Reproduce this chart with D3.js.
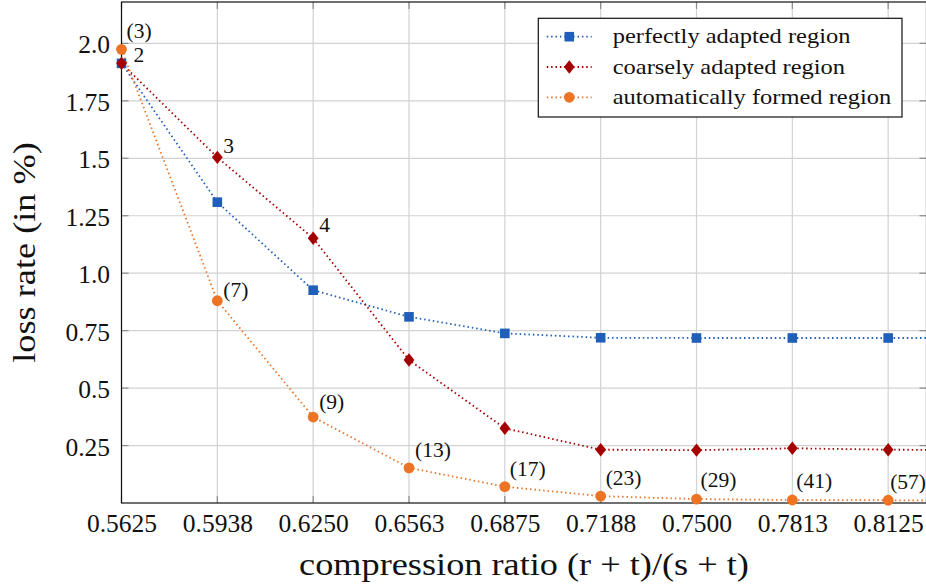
<!DOCTYPE html>
<html>
<head>
<meta charset="utf-8">
<script src="https://cdn.jsdelivr.net/npm/d3@7"></script>
<style>
  html, body { margin: 0; padding: 0; background: #fff; }
  svg { display: block; }
  svg text { font-family: "Liberation Serif", "Times New Roman", serif !important; fill: #111; }
</style>
</head>
<body>
<svg id="chart" width="926" height="587" font-family="Liberation Serif"></svg>
<script>
// Compression ratio (r + t)/(s + t) at each measured configuration
const ratios = [0.5625, 0.59375, 0.625, 0.65625, 0.6875, 0.71875, 0.75, 0.78125, 0.8125, 0.84375];

// Loss rate (in %) per region type
const perfectlyAdapted = [1.913, 1.309, 0.926, 0.810, 0.738, 0.719, 0.718, 0.718, 0.718, 0.718];
const coarselyAdapted  = [1.913, 1.504, 1.152, 0.622, 0.325, 0.232, 0.230, 0.238, 0.232, 0.230];
const automaticFormed  = [1.974, 0.880, 0.374, 0.153, 0.071, 0.030, 0.017, 0.013, 0.012, 0.009];

// Point annotations
const coarseNotes = ["2", "3", "4"];
const autoNotes = ["(3)", "(7)", "(9)", "(13)", "(17)", "(23)", "(29)", "(41)", "(57)"];

// Axis ticks
const xTickValues = [0.5625, 0.59375, 0.625, 0.65625, 0.6875, 0.71875, 0.75, 0.78125, 0.8125];
const xTickLabels = ["0.5625", "0.5938", "0.6250", "0.6563", "0.6875", "0.7188", "0.7500", "0.7813", "0.8125"];
const yTickValues = [0.25, 0.5, 0.75, 1.0, 1.25, 1.5, 1.75, 2.0];
const yTickLabels = ["0.25", "0.5", "0.75", "1.0", "1.25", "1.5", "1.75", "2.0"];

const seriesNames = ["perfectly adapted region", "coarsely adapted region", "automatically formed region"];

// ---- layout ----
const plot = { left: 121.5, right: 926.5, top: 2, bottom: 503 };
const colors = ["#1f5fb8", "#a50000", "#ec7424"];
const shapes = ["square", "diamond", "circle"];
const serif = "Liberation Serif";
// annotation nudges relative to the point (dx, baseline dy)
const coarseNudge = [[12, -1], [6, -4], [6, -6]];
const autoNudge = [[5, -11], [6, -4], [6, -8], [6, -11], [5, -11], [5, -11], [4, -12], [4, -12], [2, -11]];

const svg = d3.select("#chart");

const x = d3.scaleLinear().domain([0.5625, 0.825]).range([plot.left, plot.right]);
const y = d3.scaleLinear().domain([0, 2.18]).range([plot.bottom, plot.top]);

// stretch serif text horizontally to a wider book face proportion
function widen(sel, k) {
  sel.each(function () {
    const w = this.getComputedTextLength();
    d3.select(this).attr("textLength", w * k).attr("lengthAdjust", "spacingAndGlyphs");
  });
}

// ---- grid ----
const grid = svg.append("g").attr("stroke", "#d2d2d2").attr("stroke-width", 1.2);
grid.selectAll("line.gx").data(xTickValues).join("line")
  .attr("x1", d => x(d)).attr("x2", d => x(d))
  .attr("y1", plot.top).attr("y2", plot.bottom);
grid.selectAll("line.gy").data(yTickValues).join("line")
  .attr("x1", plot.left).attr("x2", plot.right)
  .attr("y1", d => y(d)).attr("y2", d => y(d));

// ---- inner tick marks ----
const tickLen = 7;
const ticks = svg.append("g").attr("stroke", "#8c8c8c").attr("stroke-width", 1.2);
xTickValues.forEach(v => {
  ticks.append("line").attr("x1", x(v)).attr("x2", x(v)).attr("y1", plot.bottom).attr("y2", plot.bottom - tickLen);
  ticks.append("line").attr("x1", x(v)).attr("x2", x(v)).attr("y1", plot.top).attr("y2", plot.top + tickLen);
});
yTickValues.forEach(v => {
  ticks.append("line").attr("x1", plot.left).attr("x2", plot.left + tickLen).attr("y1", y(v)).attr("y2", y(v));
  ticks.append("line").attr("x1", plot.right).attr("x2", plot.right - tickLen).attr("y1", y(v)).attr("y2", y(v));
});

// ---- frame ----
svg.append("rect")
  .attr("x", plot.left).attr("y", plot.top)
  .attr("width", plot.right - plot.left).attr("height", plot.bottom - plot.top)
  .attr("fill", "none").attr("stroke", "#111").attr("stroke-width", 1.2);

// ---- tick labels ----
const xAxisG = svg.append("g").attr("transform", `translate(0,${plot.bottom})`)
  .call(d3.axisBottom(x).tickValues(xTickValues).tickFormat((d, i) => xTickLabels[i]).tickSize(0).tickPadding(0));
xAxisG.attr("font-family", serif).attr("font-size", 25.5);
xAxisG.select(".domain").remove();
xAxisG.selectAll("text")
  .attr("y", 28.5).attr("dy", null).attr("fill", "#111");

const yAxisG = svg.append("g").attr("transform", `translate(${plot.left},0)`)
  .call(d3.axisLeft(y).tickValues(yTickValues).tickFormat((d, i) => yTickLabels[i]).tickSize(0).tickPadding(0));
yAxisG.attr("font-family", serif).attr("font-size", 25.5);
yAxisG.select(".domain").remove();
yAxisG.selectAll("text")
  .attr("x", -11.5).attr("dy", null).attr("y", 9.5).attr("fill", "#111");

// ---- axis titles ----
const xTitle = svg.append("text")
  .attr("x", (plot.left + plot.right) / 2).attr("y", 575)
  .attr("text-anchor", "middle").attr("font-family", serif).attr("font-size", 31)
  .text("compression ratio (r + t)/(s + t)");
widen(xTitle, 1.17);

const yTitle = svg.append("text")
  .attr("transform", `translate(35,${(plot.top + plot.bottom) / 2}) rotate(-90)`)
  .attr("text-anchor", "middle").attr("font-family", serif).attr("font-size", 31)
  .text("loss rate (in %)");
widen(yTitle, 1.17);

// ---- series ----
const clipId = "plot-clip";
svg.append("clipPath").attr("id", clipId).append("rect")
  .attr("x", plot.left).attr("y", plot.top)
  .attr("width", plot.right - plot.left).attr("height", plot.bottom - plot.top);

const series = [perfectlyAdapted, coarselyAdapted, automaticFormed];

const line = d3.line()
  .x((d, i) => x(ratios[i]))
  .y(d => y(d));

function markerPath(shape) {
  if (shape === "square") return "M-4.8,-4.8H4.8V4.8H-4.8Z";
  if (shape === "diamond") return "M0,-6.7L5.4,0L0,6.7L-5.4,0Z";
  return d3.symbol(d3.symbolCircle, Math.PI * 5.4 * 5.4)();
}

const lineLayer = svg.append("g").attr("clip-path", `url(#${clipId})`);
const markLayer = svg.append("g");

series.forEach((vals, s) => {
  lineLayer.append("path")
    .attr("d", line(vals))
    .attr("fill", "none")
    .attr("stroke", colors[s])
    .attr("stroke-width", 1.8)
    .attr("stroke-dasharray", "1.5 2.9")
    .attr("stroke-linecap", "butt");

  markLayer.append("g").selectAll("path")
    .data(vals.filter((d, i) => ratios[i] <= 0.825))
    .join("path")
    .attr("transform", (d, i) => `translate(${x(ratios[i])},${y(d)})`)
    .attr("d", markerPath(shapes[s]))
    .attr("fill", colors[s]);
});

// ---- annotations ----
const notes = svg.append("g").attr("font-family", serif).attr("font-size", 21.5);
coarseNotes.forEach((t, i) => {
  notes.append("text")
    .attr("x", x(ratios[i]) + coarseNudge[i][0])
    .attr("y", y(coarselyAdapted[i]) + coarseNudge[i][1])
    .text(t);
});
autoNotes.forEach((t, i) => {
  notes.append("text")
    .attr("x", x(ratios[i]) + autoNudge[i][0])
    .attr("y", y(automaticFormed[i]) + autoNudge[i][1])
    .text(t);
});

// ---- legend ----
const legend = svg.append("g").attr("font-family", serif);
legend.append("rect")
  .attr("x", 538.3).attr("y", 18.3).attr("width", 363.7).attr("height", 98.7)
  .attr("fill", "#fff").attr("stroke", "#111").attr("stroke-width", 1.2);

seriesNames.forEach((name, s) => {
  const cy = 36.7 + s * 30.3;
  legend.append("line")
    .attr("x1", 546.7).attr("x2", 591.7).attr("y1", cy).attr("y2", cy)
    .attr("stroke", colors[s]).attr("stroke-width", 1.8).attr("stroke-dasharray", "1.5 2.9");
  legend.append("path")
    .attr("transform", `translate(569.3,${cy})`)
    .attr("d", markerPath(shapes[s]))
    .attr("fill", colors[s]);
  const t = legend.append("text")
    .attr("x", 612.7).attr("y", cy + 6.5)
    .attr("font-size", 21)
    .text(name);
  widen(t, 1.165);
});
</script>
</body>
</html>
